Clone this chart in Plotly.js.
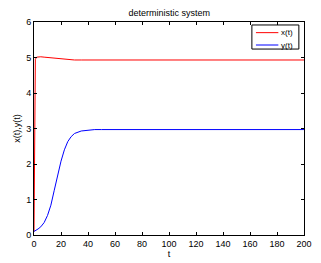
<!DOCTYPE html>
<html>
<head>
<meta charset="utf-8">
<script src="https://cdn.plot.ly/plotly-3.0.1.min.js"></script>
<style>html,body{margin:0;padding:0;background:#fff;}#chart{width:321px;height:263px;}</style>
</head>
<body>
<div id="chart"></div>
<script>
const tValues = [0, 0.3, 0.7, 1, 2, 3, 5, 7.5, 10, 12.5, 15, 17.5, 20, 22.5, 25, 27.5, 30, 35, 40, 45, 50, 60, 80, 100, 150, 200];
const xValues = [0.1, 3.0, 4.6, 4.95, 5.01, 5.02, 5.02, 5.01, 5.0, 4.99, 4.98, 4.97, 4.96, 4.95, 4.94, 4.935, 4.93, 4.93, 4.93, 4.93, 4.93, 4.93, 4.93, 4.93, 4.93, 4.93];
const yValues = [0.1, 0.105, 0.11, 0.12, 0.14, 0.17, 0.23, 0.35, 0.55, 0.84, 1.26, 1.72, 2.08, 2.4, 2.63, 2.77, 2.86, 2.93, 2.96, 2.97, 2.97, 2.97, 2.97, 2.97, 2.97, 2.97];
const seriesNames = ['x(t)', 'y(t)'];
const seriesColors = ['#ff0000', '#0000ff'];
const xTicks = [0, 20, 40, 60, 80, 100, 120, 140, 160, 180, 200];
const yTicks = [0, 1, 2, 3, 4, 5, 6];

const font = {family: 'Liberation Sans, Arial, sans-serif', size: 9, color: '#000'};

// custom compact legend (MATLAB style) in paper coordinates
const legRows = [0.950, 0.892];
const shapes = [
  {type: 'rect', xref: 'paper', yref: 'paper', x0: 0.807, x1: 0.981, y0: 0.873, y1: 0.986,
   line: {color: '#000', width: 1}, fillcolor: '#fff', layer: 'above'}
];
const annotations = [];
seriesNames.forEach((n, i) => {
  shapes.push({type: 'line', xref: 'paper', yref: 'paper', x0: 0.822, x1: 0.905, y0: legRows[i], y1: legRows[i],
    line: {color: seriesColors[i], width: 1}, layer: 'above'});
  annotations.push({xref: 'paper', yref: 'paper', x: 0.908, y: legRows[i], xanchor: 'left', yanchor: 'middle',
    text: n, showarrow: false, font: {family: font.family, size: 8, color: '#000'}});
});

Plotly.newPlot('chart', [
  {x: tValues, y: xValues, name: seriesNames[0], mode: 'lines', line: {color: seriesColors[0], width: 1}},
  {x: tValues, y: yValues, name: seriesNames[1], mode: 'lines', line: {color: seriesColors[1], width: 1}}
], {
  width: 321, height: 263,
  margin: {l: 34, r: 17, t: 22, b: 28},
  paper_bgcolor: '#fff', plot_bgcolor: '#fff',
  font: font,
  title: {text: 'deterministic system', font: {family: font.family, size: 9, color: '#000'}, x: 0.527, xanchor: 'center', y: 0.95, yanchor: 'middle'},
  xaxis: {
    range: [0, 200], tickvals: xTicks, ticks: 'inside', ticklen: 3, tickcolor: '#000',
    showline: true, linecolor: '#000', linewidth: 1, mirror: 'ticks', showgrid: false, zeroline: false,
    tickfont: font,
    title: {text: 't', font: font, standoff: 2}
  },
  yaxis: {
    range: [0, 6], tickvals: yTicks, ticks: 'inside', ticklen: 3, tickcolor: '#000',
    showline: true, linecolor: '#000', linewidth: 1, mirror: 'ticks', showgrid: false, zeroline: false,
    tickfont: font,
    title: {text: 'x(t),y(t)', font: font, standoff: 4}
  },
  showlegend: false,
  shapes: shapes,
  annotations: annotations
}, {displayModeBar: false, staticPlot: true});
</script>
</body>
</html>
